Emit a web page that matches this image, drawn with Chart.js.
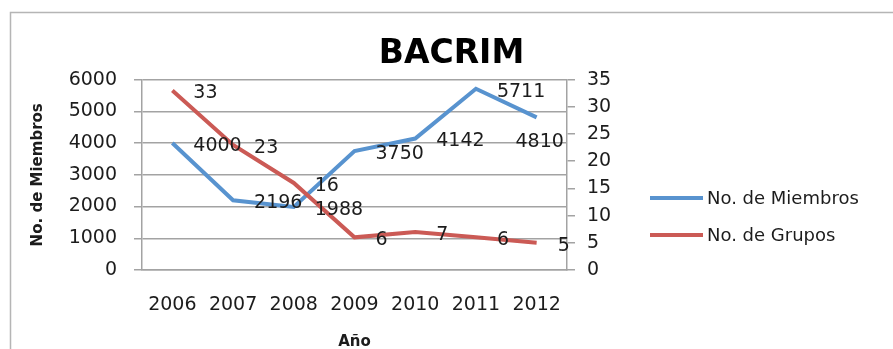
<!DOCTYPE html>
<html>
<head>
<meta charset="utf-8">
<script src="https://cdn.jsdelivr.net/npm/chart.js@4.4.1/dist/chart.umd.min.js"></script>
<style>
  html, body { margin: 0; padding: 0; background: #fff; overflow: hidden; }
  #wrap { position: relative; width: 893px; height: 362px; }
</style>
</head>
<body>
<div id="wrap"><canvas id="chart"></canvas></div>
<script>
const years = ['2006', '2007', '2008', '2009', '2010', '2011', '2012'];
const miembros = [4000, 2196, 1988, 3750, 4142, 5711, 4810];
const grupos = [33, 23, 16, 6, 7, 6, 5];
const leftAxis = { max: 6000, step: 1000 };
const rightAxis = { max: 35, step: 5 };

const gridGray = '#a3a3a3';
const textColor = '#1c1c1c';

Chart.defaults.font.family = "'DejaVu Sans', sans-serif";
Chart.defaults.color = textColor;

// white background + the thin frame of the chart area
const frame = {
    id: 'frame',
    beforeDraw(chart) {
        const ctx = chart.ctx;
        ctx.save();
        ctx.fillStyle = '#fff';
        ctx.fillRect(0, 0, chart.width, chart.height);
        ctx.strokeStyle = '#b5b5b5';
        ctx.lineWidth = 1.5;
        ctx.strokeRect(10.5, 12.5, 1000, 1000);
        ctx.restore();
    }
};

// value labels to the right of each point (below it if it would run off the plot)
const valueLabels = {
    id: 'valueLabels',
    afterDatasetsDraw(chart) {
        const ctx = chart.ctx;
        const area = chart.chartArea;
        ctx.save();
        ctx.font = "19px 'DejaVu Sans'";
        ctx.fillStyle = textColor;
        ctx.textBaseline = 'middle';
        chart.data.datasets.forEach((ds, i) => {
            chart.getDatasetMeta(i).data.forEach((pt, j) => {
                const txt = String(ds.data[j]);
                const w = ctx.measureText(txt).width;
                if (pt.x + 21 + w > area.right + 8) {
                    ctx.textAlign = 'center';
                    ctx.fillText(txt, pt.x + 3, pt.y + 25);
                } else {
                    ctx.textAlign = 'left';
                    ctx.fillText(txt, pt.x + 21, pt.y + 3);
                }
            });
        });
        ctx.restore();
    }
};

// legend on the right, line samples like the original
const sideLegend = {
    id: 'sideLegend',
    afterDraw(chart) {
        const ctx = chart.ctx;
        ctx.save();
        ctx.font = "18px 'DejaVu Sans'";
        ctx.textBaseline = 'middle';
        ctx.textAlign = 'left';
        chart.data.datasets.forEach((ds, i) => {
            const y = 198 + i * 37;
            ctx.strokeStyle = ds.borderColor;
            ctx.lineWidth = 4;
            ctx.beginPath();
            ctx.moveTo(650, y);
            ctx.lineTo(703, y);
            ctx.stroke();
            ctx.fillStyle = textColor;
            ctx.fillText(ds.label, 707, y + 1);
        });
        ctx.restore();
    }
};

new Chart(document.getElementById('chart'), {
    type: 'line',
    data: {
        labels: years,
        datasets: [
            {
                label: 'No. de Miembros',
                data: miembros,
                yAxisID: 'y',
                borderColor: '#5893CF',
                backgroundColor: '#5893CF',
                borderWidth: 4,
                pointRadius: 0,
                tension: 0,
                order: 1
            },
            {
                label: 'No. de Grupos',
                data: grupos,
                yAxisID: 'y1',
                borderColor: '#CB5A55',
                backgroundColor: '#CB5A55',
                borderWidth: 4,
                pointRadius: 0,
                tension: 0,
                order: 0
            }
        ]
    },
    options: {
        responsive: true,
        maintainAspectRatio: false,
        animation: false,
        layout: { padding: { left: 10, right: 0, top: 0, bottom: 0 } },
        plugins: {
            legend: { display: false },
            tooltip: { enabled: false },
            title: {
                display: true,
                text: 'BACRIM',
                color: '#000',
                font: { size: 33, weight: 'bold' },
                padding: { top: 35, bottom: 5 }
            }
        },
        scales: {
            x: {
                offset: true,
                grid: { display: false, drawTicks: false },
                border: { display: true, color: gridGray, width: 1.5 },
                ticks: { font: { size: 19 }, padding: 24, maxRotation: 0 },
                title: {
                    display: true,
                    text: 'Año',
                    font: { size: 15, weight: 'bold' },
                    padding: { bottom: 11 }
                },
                afterFit(scale) { scale.height = 92; }
            },
            y: {
                position: 'left',
                min: 0,
                max: leftAxis.max,
                ticks: {
                    stepSize: leftAxis.step,
                    font: { size: 19 },
                    padding: 17,
                    callback: v => String(v)
                },
                grid: { color: gridGray, lineWidth: 1.5, tickLength: 8 },
                border: { display: true, color: gridGray, width: 1.5 },
                title: {
                    display: true,
                    text: 'No. de Miembros',
                    font: { size: 15, weight: 'bold' },
                    padding: { top: 19 }
                },
                afterFit(scale) { scale.width = 132; }
            },
            y1: {
                position: 'right',
                min: 0,
                max: rightAxis.max,
                ticks: {
                    stepSize: rightAxis.step,
                    font: { size: 19 },
                    padding: 12,
                    callback: v => String(v)
                },
                grid: { drawOnChartArea: false, color: gridGray, lineWidth: 1.5, tickLength: 8 },
                border: { display: true, color: gridGray, width: 1.5 },
                afterFit(scale) { scale.width = 326; }
            }
        }
    },
    plugins: [frame, valueLabels, sideLegend]
});
</script>
</body>
</html>
